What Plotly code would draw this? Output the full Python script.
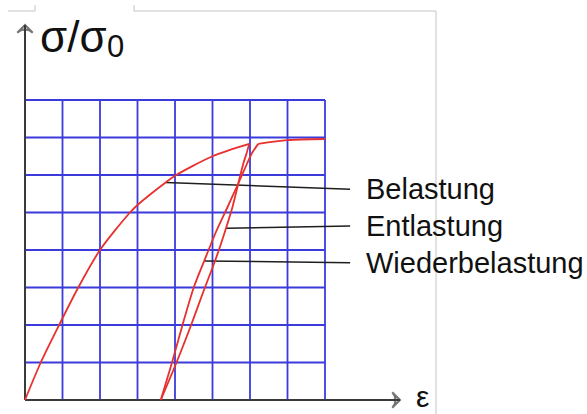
import plotly.graph_objects as go

# Strain / normalised stress values (grid units)
loading_eps = [0.0, 0.42, 0.91, 1.42, 2.0, 2.8, 3.0, 3.75, 4.0, 5.0, 5.98]
loading_sig = [0.0, 1.0, 2.0, 3.0, 4.0, 5.0, 5.2, 5.8, 5.98, 6.5, 6.83]

unloading_eps = [5.98, 5.90, 5.82, 5.69, 5.52, 5.36, 5.17, 4.99, 4.76, 4.43, 4.04, 3.62]
unloading_sig = [6.83, 6.55, 6.30, 5.78, 5.10, 4.58, 4.00, 3.50, 2.90, 2.00, 1.00, 0.00]

reloading_eps = [3.62, 3.92, 4.2, 4.5, 4.78, 5.1, 5.38, 5.69, 5.92, 6.05, 6.22]
reloading_sig = [0.0, 1.0, 2.0, 3.0, 3.71, 4.5, 5.1, 5.78, 6.3, 6.58, 6.83]

hardening_eps = [6.22, 7.0, 8.0]
hardening_sig = [6.83, 6.93, 6.96]

grid_x = [0, 1, 2, 3, 4, 5, 6, 7, 8]
grid_y = [0, 1, 2, 3, 4, 5, 6, 7, 8]

labels = ["Belastung", "Entlastung", "Wiederbelastung"]
label_from_eps = [3.75, 5.36, 4.78]
label_from_sig = [5.8, 4.58, 3.71]
label_to_eps = 8.67
label_to_sig = [5.62, 4.64, 3.66]
label_text_eps = 9.05

# axis extents (grid units)
eps_axis_end = 10.0
sig_axis_end = 10.0

W, H = 587, 414
UNIT = 37.5          # pixels per grid unit
X0_PX, Y0_PX = 25, 400

x_range = [-X0_PX / UNIT, (W - X0_PX) / UNIT]
y_range = [-(H - Y0_PX) / UNIT, Y0_PX / UNIT]

RED = "#e8302e"
BLUE = "#3b3bdc"
DARK = "#3a3a3a"
TEXT = "#111111"
FONT = "Liberation Sans"

fig = go.Figure()

# blue square grid
shapes = []
for gx in grid_x:
    shapes.append(dict(type="line", xref="x", yref="y", x0=gx, x1=gx,
                       y0=grid_y[0], y1=grid_y[-1],
                       line=dict(color=BLUE, width=1.8), layer="below"))
for gy in grid_y:
    shapes.append(dict(type="line", xref="x", yref="y", y0=gy, y1=gy,
                       x0=grid_x[0], x1=grid_x[-1],
                       line=dict(color=BLUE, width=1.8), layer="below"))

# thin grey frame fragments
frame = [((8, 11), (35, 11)), ((35, 11), (35, 5)),
         ((134, 5), (134, 11)), ((134, 11), (436, 11)), ((436, 11), (436, 414))]
for (ax_, ay_), (bx_, by_) in frame:
    shapes.append(dict(type="line", xref="paper", yref="paper",
                       x0=ax_ / W, y0=1 - ay_ / H, x1=bx_ / W, y1=1 - by_ / H,
                       line=dict(color="#c4c4c4", width=1), layer="below"))

# coordinate axes with open arrow heads
for xs, ys in [([0, 0], [0, sig_axis_end]), ([0, eps_axis_end], [0, 0])]:
    fig.add_trace(go.Scatter(
        x=xs, y=ys, mode="lines+markers",
        line=dict(color=DARK, width=2),
        marker=dict(symbol=["circle", "arrow-wide-open"], size=[0, 11],
                    angleref="previous", color=DARK,
                    line=dict(color=DARK, width=2)),
        hoverinfo="skip", showlegend=False))

# pointer lines from curves to labels
for fe, fs, ts in zip(label_from_eps, label_from_sig, label_to_sig):
    fig.add_trace(go.Scatter(x=[fe, label_to_eps], y=[fs, ts], mode="lines",
                             line=dict(color="#1e1e1e", width=1.5),
                             hoverinfo="skip", showlegend=False))

for xs, ys in [(loading_eps, loading_sig),
               (unloading_eps, unloading_sig),
               (reloading_eps, reloading_sig),
               (hardening_eps, hardening_sig)]:
    fig.add_trace(go.Scatter(x=xs, y=ys, mode="lines",
                             line=dict(color=RED, width=1.8, shape="spline",
                                       smoothing=0.8),
                             hoverinfo="skip", showlegend=False))

annotations = []
for t, ys in zip(labels, label_to_sig):
    annotations.append(dict(x=label_text_eps, y=ys, xref="x", yref="y",
                            text=t, showarrow=False, xanchor="left",
                            yanchor="middle",
                            font=dict(family=FONT, size=29, color=TEXT)))

# axis titles (sigma over sigma-zero, subscript as its own smaller label)
annotations.append(dict(x=(39 - X0_PX) / UNIT, y=(Y0_PX - 36) / UNIT,
                        xref="x", yref="y", text="σ/σ", showarrow=False,
                        xanchor="left", yanchor="middle", borderpad=0,
                        font=dict(family=FONT, size=44, color=TEXT)))
annotations.append(dict(x=(106 - X0_PX) / UNIT, y=(Y0_PX - 46) / UNIT,
                        xref="x", yref="y", text="0", showarrow=False,
                        xanchor="left", yanchor="middle", borderpad=0,
                        font=dict(family=FONT, size=31, color=TEXT)))
annotations.append(dict(x=(422 - X0_PX) / UNIT, y=(Y0_PX - 396) / UNIT,
                        xref="x", yref="y", text="ε", showarrow=False,
                        xanchor="center", yanchor="middle",
                        font=dict(family=FONT, size=30, color=TEXT)))

fig.update_layout(
    width=W, height=H, autosize=False,
    margin=dict(l=0, r=0, t=0, b=0),
    paper_bgcolor="white", plot_bgcolor="white",
    xaxis=dict(range=x_range, visible=False, fixedrange=True),
    yaxis=dict(range=y_range, visible=False, fixedrange=True),
    shapes=shapes, annotations=annotations, showlegend=False,
)

fig.write_html("out.html")
